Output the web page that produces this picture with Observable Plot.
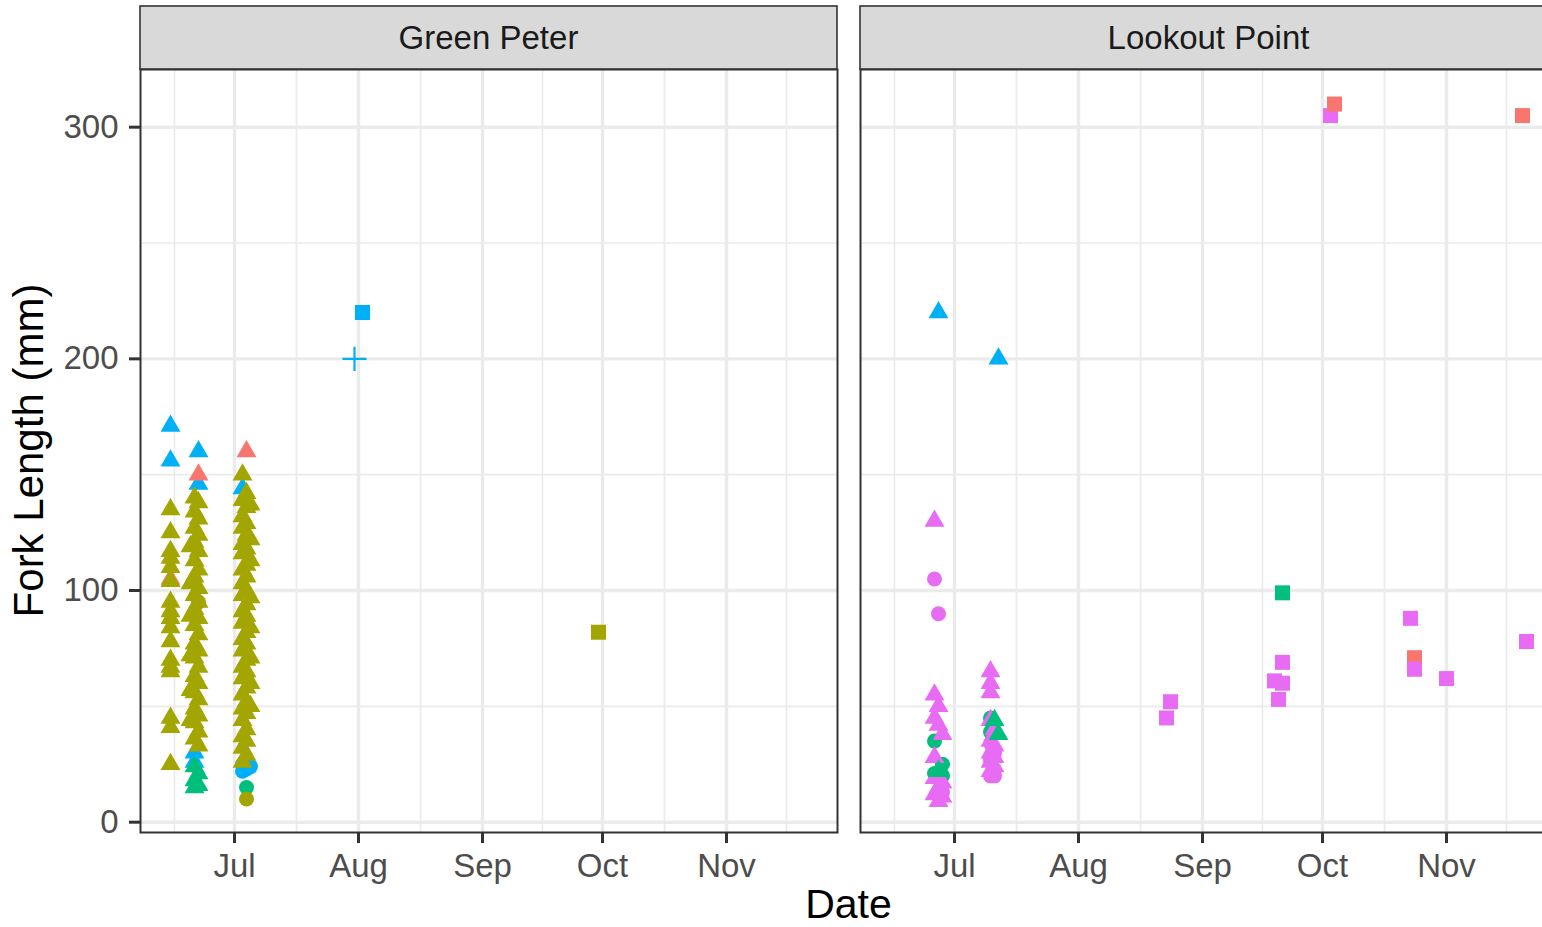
<!DOCTYPE html>
<html>
<head>
<meta charset="utf-8">
<script src="https://cdn.jsdelivr.net/npm/d3@7"></script>
<script src="https://cdn.jsdelivr.net/npm/@observablehq/plot@0.6"></script>
<style>
html, body { margin: 0; padding: 0; background: #ffffff; overflow: hidden; }
#root { position: relative; width: 1542px; height: 927px; overflow: hidden; font-family: "Liberation Sans", Arial, sans-serif; }
#root > svg { position: absolute; top: 0; }
</style>
</head>
<body>
<div id="root"></div>
<script>
// ---------- data ----------
const reservoirs = ["Green Peter", "Lookout Point"];
const speciesCodes = ["A", "B", "C", "D", "E"];
const gearCodes = ["Gear 1", "Gear 2", "Gear 3", "Gear 4"];
const monthTicks = ["2020-07-01", "2020-08-01", "2020-09-01", "2020-10-01", "2020-11-01"];
const minorDateTicks = ["2020-06-16T00:00Z", "2020-07-16T12:00Z", "2020-08-16T12:00Z", "2020-09-16T00:00Z", "2020-10-16T12:00Z", "2020-11-16T00:00Z"];
const lengthTicks = [0, 100, 200, 300];
const minorLengthTicks = [50, 150, 250];

// [date, species, gear, fork lengths (mm)]
const greenPeterGroups = [
  ["2020-06-15", "A", "Gear 1", [105]],
  ["2020-06-15", "B", "Gear 1", [135, 125, 117, 114, 110, 104, 95, 91, 88, 84, 78, 70, 67, 65, 45, 41, 25]],
  ["2020-06-15", "D", "Gear 1", [171, 156]],
  ["2020-06-22", "D", "Gear 1", [160, 146]],
  ["2020-06-22", "A", "Gear 1", [150]],
  ["2020-06-21", "D", "Gear 1", [30, 26]],
  ["2020-06-21", "B", "Gear 1", [140, 134, 127, 121, 113, 106, 98, 92, 85, 77, 71, 63, 56, 49, 43, 36]],
  ["2020-06-22", "B", "Gear 1", [138, 131, 124, 117, 109, 101, 95, 88, 81, 74, 67, 60, 53, 46, 39, 33]],
  ["2020-06-20", "B", "Gear 1", [119, 103, 89, 72, 57, 44]],
  ["2020-06-22", "B", "Gear 2", [95]],
  ["2020-06-21", "C", "Gear 1", [24, 18, 15]],
  ["2020-06-22", "C", "Gear 1", [21, 16]],
  ["2020-07-04", "A", "Gear 1", [160]],
  ["2020-07-03", "D", "Gear 1", [144]],
  ["2020-07-03", "B", "Gear 1", [150, 139, 132, 127, 120, 116, 109, 103, 98, 91, 86, 79, 74, 67, 62, 55, 49, 44, 37, 32, 26]],
  ["2020-07-04", "B", "Gear 1", [142, 136, 129, 124, 118, 111, 106, 100, 94, 89, 82, 77, 70, 65, 58, 52, 47, 40, 35, 29]],
  ["2020-07-05", "B", "Gear 1", [137, 122, 113, 97, 84, 71, 60, 50]],
  ["2020-07-03", "D", "Gear 2", [25, 22]],
  ["2020-07-04", "D", "Gear 2", [27, 23]],
  ["2020-07-05", "D", "Gear 2", [24]],
  ["2020-07-04", "C", "Gear 2", [15]],
  ["2020-07-04", "B", "Gear 2", [10]],
  ["2020-07-31", "D", "Gear 4", [200]],
  ["2020-08-02", "D", "Gear 3", [220]],
  ["2020-09-30", "B", "Gear 3", [82]]
];

const lookoutPointGroups = [
  ["2020-06-27", "D", "Gear 1", [220]],
  ["2020-07-12", "D", "Gear 1", [200]],
  ["2020-06-26", "E", "Gear 1", [130]],
  ["2020-06-26", "E", "Gear 2", [105]],
  ["2020-06-27", "E", "Gear 2", [90]],
  ["2020-06-26", "E", "Gear 1", [55, 45, 28, 19, 12]],
  ["2020-06-27", "E", "Gear 1", [50, 42, 15, 9]],
  ["2020-06-28", "E", "Gear 1", [38, 17, 11]],
  ["2020-06-26", "C", "Gear 2", [35, 21]],
  ["2020-06-28", "C", "Gear 2", [25, 20]],
  ["2020-06-27", "C", "Gear 1", [22]],
  ["2020-06-28", "E", "Gear 2", [13]],
  ["2020-07-10", "E", "Gear 1", [65, 60, 56, 44, 35, 30, 26, 22]],
  ["2020-07-11", "E", "Gear 1", [40, 33, 28, 24]],
  ["2020-07-10", "C", "Gear 2", [45, 39]],
  ["2020-07-11", "C", "Gear 1", [44]],
  ["2020-07-12", "C", "Gear 1", [38]],
  ["2020-07-10", "E", "Gear 2", [34, 27, 20]],
  ["2020-07-11", "E", "Gear 2", [30, 20]],
  ["2020-08-23", "E", "Gear 3", [45]],
  ["2020-08-24", "E", "Gear 3", [52]],
  ["2020-09-19", "E", "Gear 3", [61]],
  ["2020-09-20", "E", "Gear 3", [53]],
  ["2020-09-21", "E", "Gear 3", [69, 60]],
  ["2020-09-21", "C", "Gear 3", [99]],
  ["2020-10-03", "E", "Gear 3", [305]],
  ["2020-10-04", "A", "Gear 3", [310]],
  ["2020-10-24", "A", "Gear 3", [71]],
  ["2020-10-23", "E", "Gear 3", [88]],
  ["2020-10-24", "E", "Gear 3", [66]],
  ["2020-11-01", "E", "Gear 3", [62]],
  ["2020-11-20", "A", "Gear 3", [305]],
  ["2020-11-21", "E", "Gear 3", [78]]
];

// ---------- styling / layout ----------
const palette = ["#F8766D", "#A3A500", "#00BF7D", "#00B0F6", "#E76BF3"];
const symbols = ["triangle", "circle", "square", "plus"];
const symbolRadius = {"Gear 1": 7.4, "Gear 2": 7.5, "Gear 3": 8.46};
const xDomain = [new Date("2020-06-07T12:00Z"), new Date("2020-11-28T18:00Z")];
const yDomain = [-4.45, 324.9];
const panelW = 697, panelTop = 69, panelBottom = 832, H = 927;
const panelLefts = [140, 860];
const FONT = '"Liberation Sans", Arial, sans-serif';

function toRows(name, groups) {
  return groups.flatMap(([date, species, gear, lengths]) =>
    lengths.map(v => ({reservoir: name, date: new Date(date), species, gear, length: v})));
}

function panel(name, groups, showY) {
  const rows = toRows(name, groups);
  const filled = rows.filter(d => d.gear !== "Gear 4");
  const plus = rows.filter(d => d.gear === "Gear 4");
  const months = monthTicks.map(d => new Date(d));
  const minorMonths = minorDateTicks.map(d => new Date(d));
  const ml = showY ? 140 : 4;
  const marks = [
    Plot.ruleX(minorMonths, {stroke: "#EBEBEB", strokeWidth: 1.7}),
    Plot.ruleY(minorLengthTicks, {stroke: "#EBEBEB", strokeWidth: 1.7}),
    Plot.ruleX(months, {stroke: "#EBEBEB", strokeWidth: 3.4}),
    Plot.ruleY(lengthTicks, {stroke: "#EBEBEB", strokeWidth: 3.4}),
    Plot.dot(filled, {x: "date", y: "length", fill: "species", stroke: "none", symbol: "gear", r: d => symbolRadius[d.gear]}),
    Plot.dot(plus, {x: "date", y: "length", stroke: "species", fill: "none", symbol: "plus", r: 7.8, strokeWidth: 2.2}),
    Plot.frame({stroke: "#333333", strokeWidth: 2}),
    Plot.axisX(months, {tickFormat: d3.utcFormat("%b"), tickSize: 11, tickPadding: 10, fontSize: 33, fill: "#4D4D4D", stroke: "#333333", strokeWidth: 3, label: null})
  ];
  if (showY) {
    marks.push(Plot.axisY(lengthTicks, {tickSize: 11, tickPadding: 11, fontSize: 33, fill: "#4D4D4D", stroke: "#333333", strokeWidth: 3, label: null}));
  }
  const svg = Plot.plot({
    width: ml + panelW + 4,
    height: H,
    marginLeft: ml,
    marginRight: 4,
    marginTop: panelTop,
    marginBottom: H - panelBottom,
    x: {type: "utc", domain: xDomain},
    y: showY ? {domain: yDomain} : {domain: yDomain, axis: null},
    color: {domain: speciesCodes, range: palette},
    symbol: {domain: gearCodes, range: symbols},
    r: {type: "identity"},
    style: {fontFamily: FONT, background: "transparent", overflow: "visible"},
    marks
  });
  return svg;
}

const root = document.getElementById("root");
const p1 = panel(reservoirs[0], greenPeterGroups, true);
p1.style.left = "0px";
root.appendChild(p1);
const p2 = panel(reservoirs[1], lookoutPointGroups, false);
p2.style.left = (panelLefts[1] - 4) + "px";
root.appendChild(p2);

// strips and axis titles
const overlay = d3.create("svg")
  .attr("width", 1542).attr("height", H)
  .style("position", "absolute").style("left", "0px").style("top", "0px")
  .style("font-family", FONT);
reservoirs.forEach((name, i) => {
  const x0 = panelLefts[i];
  overlay.append("rect")
    .attr("x", x0).attr("y", 6).attr("width", panelW).attr("height", panelTop - 6)
    .attr("fill", "#D9D9D9").attr("stroke", "#333333").attr("stroke-width", 1.6);
  overlay.append("text")
    .attr("x", x0 + panelW / 2).attr("y", 48.5)
    .attr("text-anchor", "middle").attr("font-size", 33).attr("fill", "#1A1A1A")
    .text(name);
});
overlay.append("text")
  .attr("x", (panelLefts[0] + panelLefts[1] + panelW) / 2).attr("y", 918)
  .attr("text-anchor", "middle").attr("font-size", 41).attr("fill", "#000000")
  .text("Date");
overlay.append("text")
  .attr("transform", `translate(43,${(panelTop + panelBottom) / 2}) rotate(-90)`)
  .attr("text-anchor", "middle").attr("font-size", 42).attr("fill", "#000000")
  .text("Fork Length (mm)");
root.appendChild(overlay.node());
</script>
</body>
</html>
